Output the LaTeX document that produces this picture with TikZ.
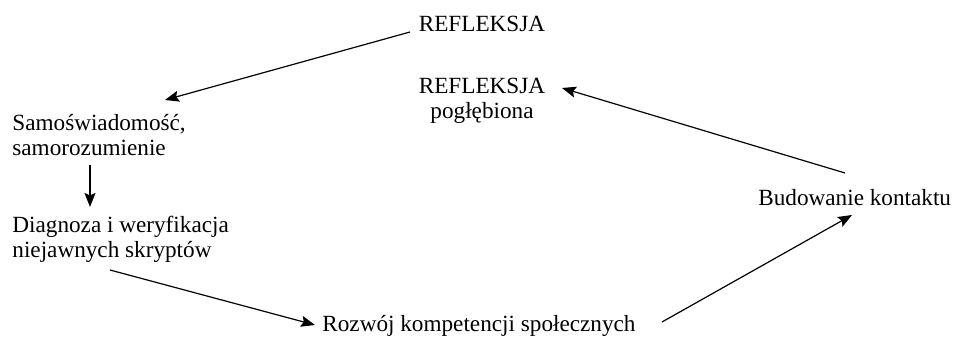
\documentclass[tikz,border=0pt]{standalone}
\usepackage{fontspec}
\setmainfont{Liberation Serif}
\usetikzlibrary{arrows.meta}

\begin{document}
\begin{tikzpicture}[x=0.5pt, y=-0.5pt,
    txt/.style={inner sep=0pt, font=\fontsize{11.6}{12.5}\selectfont},
    arr/.style={-{Stealth[length=7pt, width=5.5pt, inset=1.2pt]}, line width=0.6pt}]
    \useasboundingbox (0,0) rectangle (958,337);

    \node[txt, anchor=base] (refl) at (482,32) {REFLEKSJA};
    \node[txt, anchor=base, align=center] (deep) at (482,118) {REFLEKSJA\\pogłębiona};
    \node[txt, anchor=base west, align=left] (self) at (12,155) {Samoświadomość,\\samorozumienie};
    \node[txt, anchor=base west, align=left] (diag) at (12,257) {Diagnoza i weryfikacja\\niejawnych skryptów};
    \node[txt, anchor=base west] (dev) at (322,331) {Rozwój kompetencji społecznych};
    \node[txt, anchor=base west] (contact) at (758,205) {Budowanie kontaktu};

    \draw[arr] ([xshift=-36pt]refl.base) -- ([xshift=76.5pt, yshift=27.5pt]self.base west);
    \draw[arr] ([xshift=39pt, yshift=-5pt]self.base west) -- ([xshift=39pt, yshift=25pt]diag.base west);
    \draw[arr] ([xshift=49pt, yshift=-6.5pt]diag.base west) -- ([xshift=-3.5pt, yshift=3pt]dev.base west);
    \draw[arr] ([xshift=170pt, yshift=4.5pt]dev.base west) -- ([xshift=47pt, yshift=-5pt]contact.base west);
    \draw[arr] ([xshift=43.5pt, yshift=16pt]contact.base west) -- ([xshift=40pt, yshift=15pt]deep.base);
\end{tikzpicture}
\end{document}
